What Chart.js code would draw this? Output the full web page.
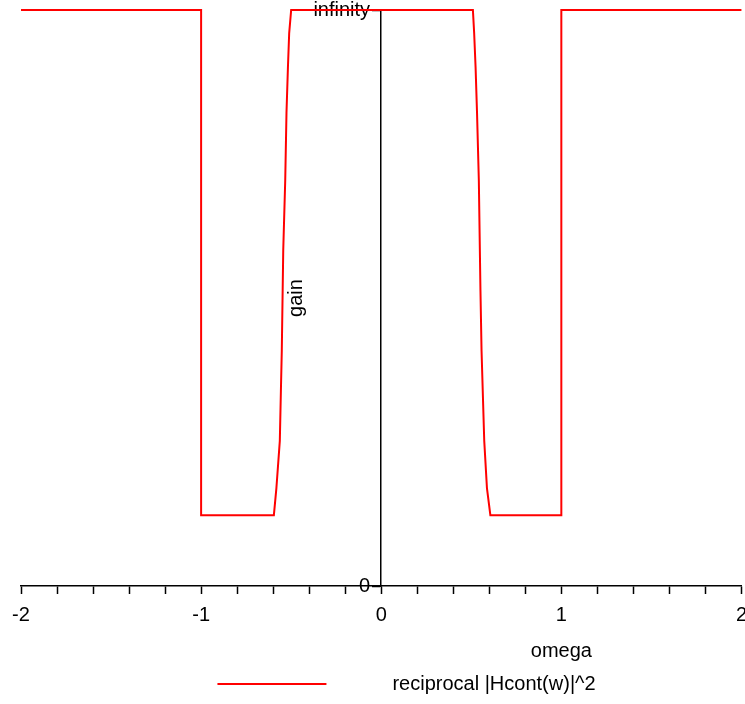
<!DOCTYPE html>
<html>
<head>
<meta charset="utf-8">
<script src="https://cdn.jsdelivr.net/npm/chart.js@4/dist/chart.umd.min.js"></script>
<style>
  html, body { margin: 0; padding: 0; overflow: hidden; background: #fff; }
  #wrap { width: 756px; height: 704px; }
</style>
</head>
<body>
<div id="wrap"><canvas id="gainChart"></canvas></div>
<script>
// omega along the curve: left step, the two steep sides, right step
const omega = [-2, -1, -1, -0.596, -0.582, -0.563, -0.557, -0.552, -0.544, -0.533, -0.526, -0.518, -0.511, -0.5,
  0.509, 0.516, 0.524, 0.532, 0.542, 0.551, 0.557, 0.572, 0.587, 0.606, 1, 1, 2];
// gain, top of the plot (1) stands for "infinity"
const gain = [1, 1, 0.123, 0.123, 0.17, 0.252, 0.339, 0.409, 0.583, 0.704, 0.821, 0.9, 0.96, 1,
  1, 0.96, 0.9, 0.821, 0.704, 0.513, 0.409, 0.252, 0.17, 0.123, 0.123, 1, 1];

const xTickValues = [-2, -1, 0, 1, 2];
const xTickLabels = ["-2", "-1", "0", "1", "2"];
const yTickValues = [0, 1];
const yTickLabels = ["0", "infinity"];
const seriesName = "reciprocal |Hcont(w)|^2";
const xTitle = "omega";
const yTitle = "gain";

const FONT = '"Liberation Sans", Arial, sans-serif';

// legend sample: short red line inside a wider transparent strip
const legendLine = document.createElement("canvas");
legendLine.width = 201;
legendLine.height = 4;
const lctx = legendLine.getContext("2d");
lctx.fillStyle = "#ff0000";
lctx.fillRect(36, 1, 109, 2);

const axisTitles = {
  id: "axisTitles",
  afterDraw(chart) {
    const { ctx, chartArea, scales } = chart;
    ctx.save();
    ctx.font = "20px " + FONT;
    ctx.fillStyle = "#000";
    ctx.textAlign = "center";
    ctx.textBaseline = "middle";
    ctx.fillText(xTitle, scales.x.getPixelForValue(1), 651);
    ctx.translate(scales.x.getPixelForValue(0) - 85, (chartArea.top + chartArea.bottom) / 2);
    ctx.rotate(-Math.PI / 2);
    ctx.fillText(yTitle, 0, 0);
    ctx.restore();
  },
};

new Chart("gainChart", {
  type: "line",
  data: {
    datasets: [
      {
        label: seriesName,
        data: omega.map((w, i) => ({ x: w, y: gain[i] })),
        borderColor: "#ff0000",
        backgroundColor: "#ff0000",
        borderWidth: 2,
        pointRadius: 0,
        tension: 0,
        clip: 4,
      },
    ],
  },
  options: {
    responsive: true,
    maintainAspectRatio: false,
    animation: false,
    layout: { padding: { left: 21, right: 0, top: 10, bottom: 0 } },
    plugins: {
      legend: {
        position: "bottom",
        labels: {
          usePointStyle: true,
          pointStyle: legendLine,
          pointStyleWidth: 201,
          padding: 1,
          color: "#000",
          font: { family: FONT, size: 20 },
        },
      },
      tooltip: { enabled: false },
    },
    scales: {
      x: {
        type: "linear",
        min: -2,
        max: 2,
        afterFit: (scale) => {
          scale.height = 87;
        },
        border: { display: true, color: "#000", width: 1.5 },
        grid: { drawOnChartArea: false, drawTicks: true, tickLength: 8, tickColor: "#000", tickWidth: 1.5 },
        ticks: {
          stepSize: 0.2,
          autoSkip: false,
          maxRotation: 0,
          padding: 9,
          color: "#000",
          font: { family: FONT, size: 20 },
          callback: (v) => {
            const i = xTickValues.findIndex((t) => Math.abs(t - v) < 1e-9);
            return i < 0 ? "" : xTickLabels[i];
          },
        },
      },
      y: {
        type: "linear",
        position: { x: 0 },
        min: 0,
        max: 1,
        afterBuildTicks: (scale) => {
          scale.ticks = yTickValues.map((v) => ({ value: v }));
        },
        border: { display: true, color: "#000", width: 1.5 },
        grid: { drawOnChartArea: false, drawTicks: true, tickLength: 8, tickColor: "#000", tickWidth: 1.5 },
        ticks: {
          padding: 0,
          color: "#000",
          font: { family: FONT, size: 20, lineHeight: 1 },
          // labels sit right-aligned on the axis line, the trailing gap keeps them clear of it
          callback: (v) => {
            const i = yTickValues.indexOf(v);
            return i < 0 ? "" : yTickLabels[i] + "  ";
          },
        },
      },
    },
  },
  plugins: [axisTitles],
});
</script>
</body>
</html>
